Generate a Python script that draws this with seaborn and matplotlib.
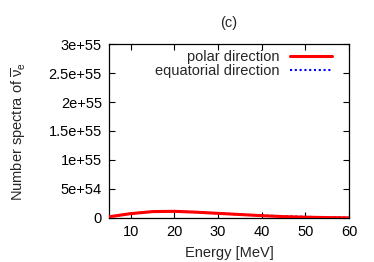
import numpy as np
import pandas as pd
import matplotlib
matplotlib.use("Agg")
import matplotlib.pyplot as plt
import seaborn as sns

# energy grid [MeV] and spectra (units of 1e54)
energy = [5, 10, 15, 20, 25, 30, 35, 40, 45, 50, 55, 60]
polar = [0.2, 0.75, 1.1, 1.15, 1.0, 0.8, 0.6, 0.4, 0.24, 0.14, 0.07, 0.03]
equatorial = [0.2, 0.75, 1.1, 1.15, 1.0, 0.8, 0.6, 0.43, 0.3, 0.2, 0.12, 0.06]

yticks = [0, 5e54, 1e55, 1.5e55, 2e55, 2.5e55, 3e55]
ytick_labels = ['0', '5e+54', '1e+55', '1.5e+55', '2e+55', '2.5e+55', '3e+55']
xticks = [10, 20, 30, 40, 50, 60]

df = pd.DataFrame({
    'energy': energy,
    'polar': np.array(polar) * 1e54,
    'equatorial': np.array(equatorial) * 1e54,
})

sns.set_style("ticks")
plt.rcParams['font.family'] = ['Liberation Sans', 'DejaVu Sans']
plt.rcParams['mathtext.fontset'] = 'custom'
plt.rcParams['mathtext.rm'] = 'Liberation Sans'
plt.rcParams['mathtext.it'] = 'Liberation Sans'

fs = 10.5
fig = plt.figure(figsize=(3.74, 2.62), dpi=100)
ax = fig.add_axes([0.291, 0.168, 0.642, 0.664])

sns.lineplot(data=df, x='energy', y='polar', color='#ff0000', lw=2.2,
             label='polar direction', ax=ax, zorder=3, legend=False)
sns.lineplot(data=df, x='energy', y='equatorial', color='#0000ff', lw=1.5,
             linestyle=(0, (1, 1.3)), label='equatorial direction', ax=ax, zorder=2,
             legend=False)

ax.set_xlim(5, 60)
ax.set_ylim(0, 3e55)
ax.set_xticks(xticks)
ax.set_xticklabels([str(x) for x in xticks])
ax.set_yticks(yticks)
ax.set_yticklabels(ytick_labels)
ax.tick_params(direction='in', top=True, right=True, length=4, width=0.8,
               labelsize=fs, colors='black', pad=5)
for s in ax.spines.values():
    s.set_linewidth(0.9)
    s.set_color('black')

ax.set_xlabel('Energy [MeV]', fontsize=fs, labelpad=5)
ax.set_ylabel(r'Number spectra of $\overline{\nu}_{\rm e}$', fontsize=fs, labelpad=15)
ax.set_title('(c)', fontsize=fs, pad=12)

# gnuplot-style key: text right-aligned, sample on the right
lines = ax.get_lines()
key_y = [0.925, 0.845]
for i, (line, y) in enumerate(zip(lines, key_y)):
    leg = ax.legend([line], [line.get_label()], loc='center right',
                    bbox_to_anchor=(0.929, y), frameon=False, markerfirst=False,
                    fontsize=fs, handlelength=2.9, handletextpad=0.7,
                    borderpad=0, borderaxespad=0)
    if i < len(lines) - 1:
        ax.add_artist(leg)

fig.savefig('out.png', dpi=100)
